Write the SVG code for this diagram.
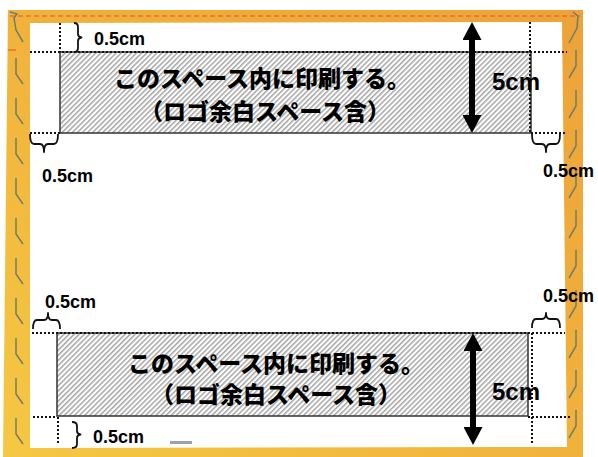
<svg xmlns="http://www.w3.org/2000/svg" width="598" height="457" viewBox="0 0 598 457">
<defs>
  <linearGradient id="frameGrad" x1="1" y1="0" x2="0" y2="1">
    <stop offset="0" stop-color="#EEA239"/>
    <stop offset="0.5" stop-color="#F1B23C"/>
    <stop offset="1" stop-color="#F5C843"/>
  </linearGradient>
  <pattern id="hatch" patternUnits="userSpaceOnUse" width="3.6" height="10" patternTransform="rotate(45)">
    <rect x="0" y="0" width="3.6" height="10" fill="#ffffff"/>
    <rect x="0" y="0" width="1.5" height="10" fill="#a6a6a6"/>
  </pattern>
  <marker id="head" viewBox="0 -9.5 18 19" refX="0" refY="0" markerUnits="userSpaceOnUse" markerWidth="18" markerHeight="19" orient="auto-start-reverse">
    <path d="M0,-9.5 L18,0 L0,9.5 z" fill="#000"/>
  </marker>
  <style>
    .dot { stroke: #111; stroke-width: 2; stroke-dasharray: 2 2; fill: none; }
    .area { fill: url(#hatch); stroke: #333; stroke-width: 1.5; }
    .brace { stroke: #111; stroke-width: 1.8; fill: none; stroke-linejoin: round; }
    .dim { font-family: "Liberation Sans", Arial, sans-serif; font-weight: bold; font-size: 18px; fill: #000; }
    .big { font-family: "Liberation Sans", Arial, sans-serif; font-weight: bold; font-size: 24px; fill: #000; }
    .jp { font-family: "Noto Sans CJK JP", "Noto Sans CJK SC", sans-serif; font-weight: 900; font-size: 23px; fill: #000; text-anchor: middle; }
    .arrow { stroke: #000; stroke-width: 6; marker-start: url(#head); marker-end: url(#head); }
    .mark { stroke: #6f7f66; stroke-width: 1.5; fill: none; }
  </style>
</defs>

<rect width="598" height="457" fill="#ffffff"/>

<g id="frame">
  <path d="M8,10 L583,10 L583,457 L3,457 Z M30,23 L30,448 L567,447 L562,22 Z" fill="url(#frameGrad)" fill-rule="evenodd"/>
  <line x1="10" y1="16" x2="580" y2="16" stroke="#D9582C" stroke-width="1" stroke-dasharray="5 3"/>
  <line x1="8" y1="50" x2="16" y2="50" stroke="#D9582C" stroke-width="1"/>
  <path class="mark" d="M10,12 L17,14 L14,18 L16,30 L23,42 M16,58 L16,74 L23,84 M16,98 L16,114 L23,124 M16,138 L16,154 L23,164 M16,178 L16,194 L23,204 M16,218 L16,234 L23,244 M16,258 L16,274 L23,284 M16,298 L16,314 L23,324 M16,338 L16,354 L23,364 M16,378 L16,394 L23,404 M16,418 L16,434 L23,444"/>
  <path class="mark" d="M573,12 L578,16 L577,28 L569,43 M576,50 L576,66 L569,78 M576,90 L576,106 L569,118 M576,130 L576,146 L569,158 M576,170 L576,186 L569,198 M576,210 L576,226 L569,238 M576,250 L576,266 L569,278 M576,290 L576,306 L569,318 M576,330 L576,346 L569,358 M576,370 L576,386 L569,398 M576,410 L576,426 L569,438"/>
  <rect x="170" y="441" width="22" height="3" fill="#9aa3ad"/>
</g>

<g id="top-panel">
  <rect class="area" x="60" y="52" width="471" height="81"/>
  <text class="jp" x="262" y="87">このスペース内に印刷する。</text>
  <text class="jp" x="265" y="120">（ロゴ余白スペース含）</text>
</g>

<g id="bottom-panel">
  <rect class="area" x="57" y="333" width="471" height="83"/>
  <text class="jp" x="276" y="372">このスペース内に印刷する。</text>
  <text class="jp" x="276" y="403">（ロゴ余白スペース含）</text>
</g>

<g id="guides">
  <line class="dot" x1="30" y1="52" x2="567" y2="52"/>
  <line class="dot" x1="60" y1="23" x2="60" y2="52"/>
  <line class="dot" x1="530" y1="22" x2="530" y2="133"/>
  <line class="dot" x1="30" y1="133" x2="60" y2="133"/>
  <line class="dot" x1="531" y1="133" x2="565" y2="133"/>

  <line class="dot" x1="32" y1="333" x2="565" y2="333"/>
  <line class="dot" x1="33" y1="417" x2="57" y2="417"/>
  <line class="dot" x1="528" y1="417" x2="570" y2="417"/>
  <line class="dot" x1="58" y1="417" x2="58" y2="443"/>
  <line class="dot" x1="532" y1="333" x2="532" y2="443"/>
</g>

<g id="connectors">
  <line class="arrow" x1="472" y1="40" x2="472" y2="115"/>
  <line class="arrow" x1="473" y1="351" x2="473" y2="427"/>
</g>

<g id="braces">
  <path class="brace" d="M74,23 Q78,23 78,27 L78,34 Q78,37 81.5,37.5 Q78,38 78,41 L78,48 Q78,52 74,52"/>
  <path class="brace" d="M30,134 Q30,144 34,144 L40,144 Q44,144 44,152 Q44,144 48,144 L54,144 Q58,144 58,134"/>
  <path class="brace" d="M532,134 Q532,144 536,144 L542,144 Q546,144 546,152 Q546,144 550,144 L556,144 Q560,144 560,134"/>
  <path class="brace" d="M33,329 Q33,320 37,320 L44,320 Q48,320 48,313 Q48,320 52,320 L56,320 Q60,320 60,329"/>
  <path class="brace" d="M532,328 Q532,319 536,319 L542,319 Q546,319 546,313 Q546,319 550,319 L556,319 Q560,319 560,328"/>
  <path class="brace" d="M72,422 Q77,422 77,426 L77,431 Q77,434 80.5,434.5 Q77,435 77,438 L77,444 Q77,448 72,448"/>
</g>

<g id="labels">
  <text class="dim" x="94" y="45">0.5cm</text>
  <text class="dim" x="42" y="182">0.5cm</text>
  <text class="dim" x="543" y="177">0.5cm</text>
  <text class="dim" x="45" y="308">0.5cm</text>
  <text class="dim" x="543" y="302">0.5cm</text>
  <text class="dim" x="93" y="443">0.5cm</text>
  <text class="big" x="492" y="90">5cm</text>
  <text class="big" x="492" y="400">5cm</text>
</g>
</svg>
